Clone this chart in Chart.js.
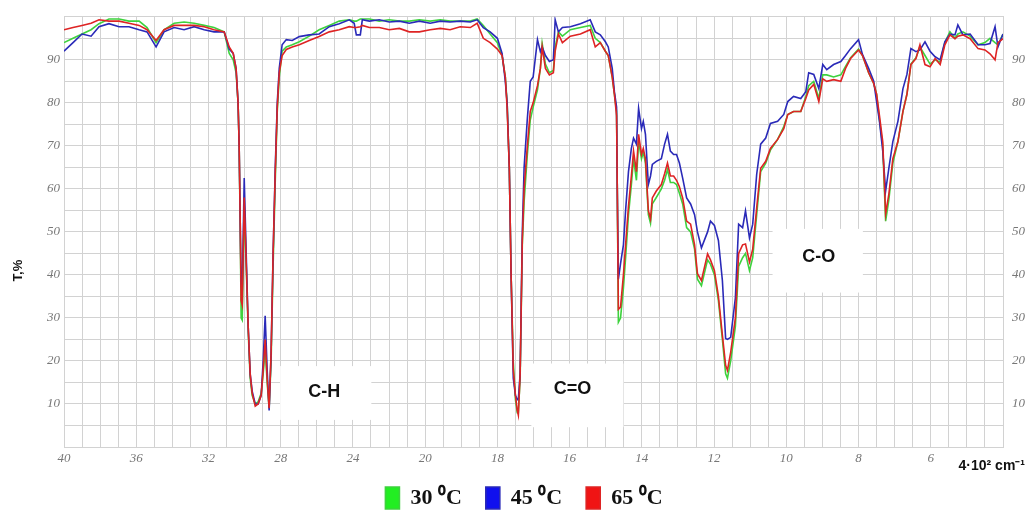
<!DOCTYPE html>
<html>
<head>
<meta charset="utf-8">
<script src="https://cdn.jsdelivr.net/npm/chart.js@4.4.1/dist/chart.umd.min.js"></script>
<style>
  html, body { margin: 0; padding: 0; background: #fff; }
</style>
</head>
<body>
<canvas id="ir" width="1028" height="511"></canvas>
<script>
// IR spectra, T% vs wavenumber (cm-1). Axis runs 4000 -> 400, scale doubles below 2000.
const wavenumber = [
  4000, 3950, 3900, 3850, 3806, 3751, 3695, 3640, 3584, 3540, 3490, 3446, 3390, 3335, 3279, 3224, 3169, 3113,
  3085, 3063, 3047, 3036, 3030, 3024, 3019, 3013, 3002, 2991, 2980, 2969, 2958, 2941, 2925, 2908, 2897, 2886, 2875, 2864, 2853, 2842, 2830, 2819, 2808,
  2792, 2769, 2736, 2697, 2642, 2587, 2531, 2476, 2420, 2393, 2381, 2359, 2348, 2309, 2254, 2199, 2143, 2088, 2032, 1986, 1958, 1931, 1903, 1875, 1856,
  1839, 1820, 1800, 1787, 1778, 1773, 1767, 1762, 1756, 1750, 1745, 1742, 1737, 1731, 1726, 1717, 1709, 1701, 1689, 1681, 1676, 1667, 1656, 1645, 1640, 1631, 1620, 1598, 1570, 1543, 1529, 1515, 1501, 1493, 1482, 1476, 1470,
  1468, 1465, 1459, 1451, 1445, 1437, 1429, 1423, 1415, 1409, 1401, 1396, 1390, 1382, 1376, 1371, 1360, 1346, 1337, 1329, 1321, 1312, 1304, 1296, 1287, 1276, 1265, 1254, 1246,
  1235, 1218, 1210, 1199, 1188, 1177, 1168, 1163, 1154, 1141, 1132, 1121, 1113, 1102, 1093, 1082, 1071, 1057, 1044, 1024, 1007,
  996, 980, 960, 946, 938, 924, 910, 899, 888, 869, 849, 836, 822, 800, 789, 772, 758, 750, 742, 733, 725, 716, 705, 691, 677, 666, 655, 641, 630, 616, 602, 588, 574, 561, 547, 533, 525, 511, 491, 469, 450, 436, 422, 414, 400
];

const t30 = [
  94, 95, 96, 97, 98.4, 99.5, 99.5, 99, 99, 97.5, 94, 97, 98.5, 98.8, 98.5, 98, 97.5, 96.5,
  91.5, 90, 87, 80, 70, 50, 30, 29.5, 56, 42, 27, 16, 12, 10, 10.5, 12.5, 17, 23, 15, 9, 20, 42, 62, 78, 86,
  92, 93, 93.5, 94.2, 95.5, 97, 98, 99, 99.3, 99, 99, 99.5, 99.5, 99.5, 99, 99.3, 99, 99, 99.3, 99, 99.3, 99, 99, 99, 99.5,
  98, 96, 94, 91, 86, 80, 65, 40, 20, 11, 8, 8, 16, 47, 57, 68, 76, 79, 83, 88, 93.8, 89, 87, 87.5, 93, 96.5, 95.5, 97, 97.5, 98, 95, 94, 92, 91, 86, 82, 78,
  60, 29, 30, 37, 44, 54, 61, 67, 62, 71, 67, 68.5, 66, 54, 52, 56.5, 58, 60, 62, 64.5, 61.5, 61.5, 61, 59, 56.5, 51, 50, 46, 39,
  37.5, 43.5, 42.5, 40, 34, 25, 17, 16, 20, 28, 42, 44, 45, 41, 44, 54, 64, 66, 69, 71.5, 74.5,
  77.3, 78, 78, 81.5, 84, 85, 81, 86.5, 86.5, 86, 86.5, 88.5, 90.5, 92.5, 91, 87, 84.5, 82, 76, 70, 52.5, 57.5, 66, 71, 78, 82, 89, 90.5, 93, 91, 89, 90, 89.5, 94, 96.5, 95, 96, 96.5, 95.5, 93.5, 94, 95, 94, 93.5, 96
];

const t45 = [
  92, 94, 96, 95.5, 97.7, 98.4, 97.7, 97.7, 97, 96.5, 93, 96.5, 97.5, 97, 97.7, 97, 96.5, 96.5,
  92.5, 91.5, 88, 80, 70, 52, 38, 36, 62.5, 45, 28, 17, 13, 10, 10, 12, 20, 30.5, 18, 8.5, 22, 45, 65, 80, 88,
  93.5, 94.7, 94.5, 95.4, 95.8, 96, 97.7, 98.4, 99.3, 98.5, 95.8, 95.8, 99.3, 99, 99.3, 98.8, 99, 98.5, 99, 98.5, 99, 98.8, 99, 98.8, 99.3,
  97.5, 96.5, 95, 91.5, 85, 80, 65, 40, 16, 12, 11, 11, 17, 50, 65, 76.4, 85, 86, 94.7, 91.9, 93, 91, 89.6, 90, 99.3, 96.5, 97.5, 97.7, 98.4, 99.3, 96.5, 95.8, 94.2, 93, 88, 82.6, 79,
  60, 39, 42.6, 47, 55, 64, 69.4, 71.8, 70.4, 78.7, 74, 75.7, 72.7, 61, 63, 65.7, 66.4, 67, 70.4, 72.7, 68.8, 68, 68, 66, 62.5, 57.9, 56.5, 54, 50,
  46.3, 50, 52.5, 51.5, 48, 38.7, 25.2, 25, 25.5, 34.7, 51.8, 51, 54.9, 48.6, 51.8, 63.4, 70.4, 71.8, 75.2, 75.7, 77.3,
  80.3, 81.5, 81, 82.6, 87, 86.6, 83.3, 88.9, 87.7, 88.9, 89.6, 91, 92.6, 94.7, 91.2, 88, 85, 80.3, 75.7, 68.8, 59.5, 64.8, 71, 75.7, 83.3, 86.6, 92.6, 91.9, 92.3, 94.2, 92, 90.7, 90, 94.2, 96, 95.8, 98.1, 95.8, 96, 93.5, 93.5, 93.8, 97.7, 93, 96
];

const t65 = [
  97, 97.5, 98, 98.5, 99.3, 99, 99, 98.5, 98, 97, 94.5, 97, 98, 98, 98, 97.7, 97, 96.5,
  93, 91.5, 88, 80, 70, 52, 34, 33, 58, 43, 28, 17, 12.5, 9.5, 10, 12, 18, 25, 16, 9, 22, 45, 64, 79, 87,
  91, 92.4, 93, 93.5, 94.5, 95.4, 96.5, 97, 97.7, 97.5, 97.5, 97.7, 98, 97.5, 97.5, 97, 97.3, 96.5, 96.5, 97, 97.3, 97, 97.7, 97.5, 98.5,
  95, 94, 92.5, 91, 86, 78.7, 65, 40, 18, 12, 8.5, 7.4, 17, 48, 60, 70, 78, 80, 84, 88, 93, 88, 86.5, 87, 92, 96, 94, 95.5, 96, 97, 93, 94, 92, 91, 86, 82, 77,
  60, 32, 32.5, 40, 47, 56, 63, 68.8, 64, 72.7, 68, 69.4, 67, 55, 53, 57.9, 59.5, 61, 63.5, 66, 63, 63, 62, 60.5, 57.9, 52.5, 51.8, 47, 40.3,
  38.7, 44.9, 43.5, 41, 35, 26, 19, 17.8, 22, 30, 45, 47, 47.2, 43, 46, 55.6, 64.8, 66.4, 69.4, 71.5, 74,
  77.3, 78, 78, 81, 83, 84.3, 80.3, 85.6, 85, 85.4, 85, 88, 90.3, 92.3, 91, 87, 84.5, 82, 77, 71, 54.2, 58.8, 67, 71, 78, 82, 88.9, 90.3, 93.5, 88.9, 88.4, 90.3, 88.9, 93.5, 95.8, 94.9, 95.5, 95.8, 94.9, 92.6, 92.3, 91.4, 90, 94, 94.9
];

const seriesLabels = ['30 \u2070C', '45 \u2070C', '65 \u2070C'];
const xTickLabels = ['40', '36', '32', '28', '24', '20', '18', '16', '14', '12', '10', '8', '6'];
const yTickLabels = [10, 20, 30, 40, 50, 60, 70, 80, 90];
const bandLabels = ['C-H', 'C=O', 'C-O'];

// label boxes, in wavenumber / T units
const bandBoxes = [
  { from: 2803, to: 2298, top: 18.8, bottom: 6.3, textWn: 2559, textT: 12.7 },
  { from: 1706, to: 1451, top: 19.4, bottom: 4.6, textWn: 1592, textT: 13.4 },
  { from: 1038, to: 788, top: 50.7, bottom: 35.9, textWn: 910, textT: 44.2 }
];

// 4000..2000 -> 0..5 ; 2000..400 -> 5..13
function toAxis(wn) {
  return wn >= 2000 ? (4000 - wn) / 400 : 5 + (2000 - wn) / 200;
}

const tickFont = { family: 'Liberation Serif', size: 13, style: 'italic' };
const gridColor = '#d2d2d2';

const bandPlugin = {
  id: 'bands',
  beforeDatasetsDraw(chart) {
    const { ctx, scales: { x, y } } = chart;
    ctx.save();
    ctx.fillStyle = '#fff';
    bandBoxes.forEach(b => {
      const x0 = x.getPixelForValue(toAxis(b.from));
      const x1 = x.getPixelForValue(toAxis(b.to));
      const y0 = y.getPixelForValue(b.top);
      const y1 = y.getPixelForValue(b.bottom);
      ctx.fillRect(x0, y0, x1 - x0, y1 - y0);
    });
    ctx.restore();
  },
  afterDatasetsDraw(chart) {
    const { ctx, scales: { x, y } } = chart;
    ctx.save();
    ctx.fillStyle = '#111';
    ctx.font = 'bold 18px "Liberation Sans", Arial, sans-serif';
    ctx.textAlign = 'center';
    ctx.textBaseline = 'middle';
    bandBoxes.forEach((b, i) => {
      ctx.fillText(bandLabels[i], x.getPixelForValue(toAxis(b.textWn)), y.getPixelForValue(b.textT));
    });
    ctx.restore();
  },
  afterDraw(chart) {
    const { ctx, chartArea, scales: { y } } = chart;
    ctx.save();
    ctx.fillStyle = '#111';
    ctx.font = 'bold 14px "Liberation Sans", Arial, sans-serif';
    ctx.textAlign = 'right';
    ctx.textBaseline = 'middle';
    ctx.fillText('4\u00b710\u00b2 cm\u207b\u00b9', chartArea.right + 22, chartArea.bottom + 19);
    // y axis title
    ctx.font = 'bold 13px "Liberation Sans", Arial, sans-serif';
    ctx.textAlign = 'center';
    ctx.translate(18, y.getPixelForValue(41));
    ctx.rotate(-Math.PI / 2);
    ctx.fillText('T,%', 0, 0);
    ctx.restore();
  }
};

function series(values) {
  return wavenumber.map((w, i) => ({ x: toAxis(w), y: values[i] }));
}

new Chart(document.getElementById('ir'), {
  type: 'line',
  data: {
    datasets: [
      { label: seriesLabels[0], data: series(t30), borderColor: '#3ed23e', backgroundColor: '#22ee22', order: 2 },
      { label: seriesLabels[1], data: series(t45), borderColor: '#2a2ab8', backgroundColor: '#1010ee', order: 1 },
      { label: seriesLabels[2], data: series(t65), borderColor: '#de2424', backgroundColor: '#f01414', order: 0 }
    ]
  },
  options: {
    responsive: false,
    animation: false,
    layout: { padding: { left: 20, top: 15, right: 0, bottom: -8 } },
    elements: {
      line: { borderWidth: 1.6, tension: 0 },
      point: { radius: 0 }
    },
    scales: {
      x: {
        type: 'linear',
        min: 0,
        max: 13,
        afterFit(s) { s.height = 16; },
        grid: { color: gridColor, drawTicks: false },
        border: { color: gridColor },
        ticks: {
          stepSize: 0.25,
          autoSkip: false,
          maxRotation: 0,
          padding: 4,
          color: '#777',
          font: tickFont,
          callback: v => (Number.isInteger(v) && v < xTickLabels.length ? xTickLabels[v] : '')
        }
      },
      y: {
        min: 0,
        max: 100,
        afterFit(s) { s.width = 44; },
        grid: { color: gridColor, drawTicks: false },
        border: { color: gridColor },
        ticks: {
          stepSize: 5,
          padding: 4,
          color: '#777',
          font: tickFont,
          callback: v => (yTickLabels.includes(v) ? v : '')
        }
      },
      y2: {
        position: 'right',
        min: 0,
        max: 100,
        afterFit(s) { s.width = 25; },
        grid: { display: false, drawTicks: false },
        border: { color: gridColor },
        ticks: {
          stepSize: 5,
          padding: 9,
          color: '#777',
          font: tickFont,
          callback: v => (yTickLabels.includes(v) ? v : '')
        }
      }
    },
    plugins: {
      tooltip: { enabled: false },
      legend: {
        position: 'bottom',
        labels: {
          boxWidth: 14,
          boxHeight: 22,
          padding: 24,
          color: '#111',
          font: { family: 'Liberation Serif', size: 22, weight: 'bold' },
          sort: (a, b) => a.datasetIndex - b.datasetIndex
        }
      }
    }
  },
  plugins: [bandPlugin]
});
</script>
</body>
</html>
